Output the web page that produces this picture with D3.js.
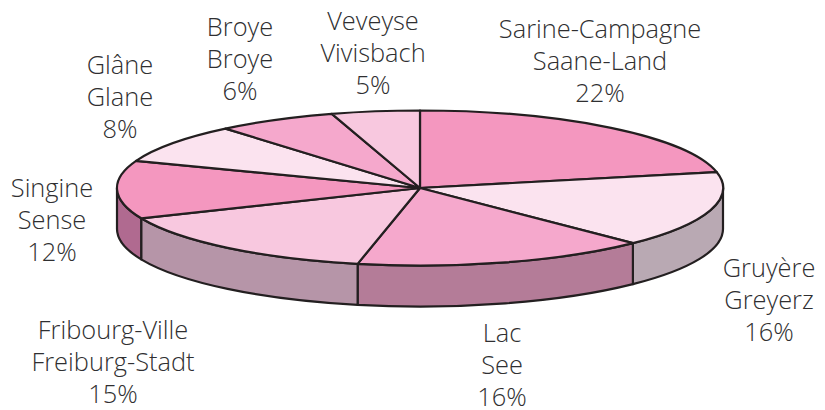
<!DOCTYPE html>
<html>
<head>
<meta charset="utf-8">
<script src="https://cdn.jsdelivr.net/npm/d3@7"></script>
<style>
  html, body { margin: 0; background: #fff; }
  text { font-family: "Open Sans", "Noto Sans", sans-serif; font-size: 25.4px; font-weight: 300; fill: #2f2f31; }
</style>
</head>
<body>
<div id="chart"></div>
<script>
const regions = ['Sarine-Campagne', 'Gruyère', 'Lac', 'Fribourg-Ville', 'Singine', 'Glâne', 'Broye', 'Veveyse']
const regionsDe = ['Saane-Land', 'Greyerz', 'See', 'Freiburg-Stadt', 'Sense', 'Glane', 'Broye', 'Vivisbach']
// printed percentages
const shareLabels = [22, 16, 16, 15, 12, 8, 6, 5]
// slice sizes, a bit finer than the printed figures
const shares = [21.7, 15.9, 15.7, 15.3, 12.1, 8.2, 6.4, 4.7]

const topColors = ['#f497bf', '#fbe3ef', '#f5a8cc', '#f8c8df', '#f497bf', '#fbe3ef', '#f5a8cc', '#f8c8df']
const sideColors = ['#b9a9b3', '#b9a9b3', '#b47c98', '#b695a8', '#b06a90', '#b695a8', '#b695a8', '#b695a8']

// centre of each label block, x and first baseline
const labelX = [600, 769, 502, 113, 52, 120, 240, 373]
const labelY = [38, 277, 342, 339, 197, 74, 36, 30]

const canvasWidth = 825
const canvasHeight = 410
const cx = 420
const cy = 188
const rx = 303
const ry = 77.5
const depth = 41
const lineStep = 32

const svg = d3
  .select('#chart')
  .append('svg')
  .attr('width', canvasWidth)
  .attr('height', canvasHeight)

const pie = d3.pie().sort(null)
const slices = pie(shares)

const px = a => cx + rx * Math.sin(a)
const py = a => cy - ry * Math.cos(a)

// wall below the rim, only the front half of the ellipse shows
const wallPath = d => {
  const a0 = Math.max(d.startAngle, Math.PI / 2)
  const a1 = Math.min(d.endAngle, Math.PI * 1.5)
  if (a1 <= a0) return null
  return `M${px(a0)},${py(a0)}A${rx},${ry} 0 0 1 ${px(a1)},${py(a1)}` +
    `L${px(a1)},${py(a1) + depth}A${rx},${ry} 0 0 0 ${px(a0)},${py(a0) + depth}Z`
}

svg
  .append('g')
  .selectAll('path')
  .data(slices.filter(wallPath))
  .enter()
  .append('path')
  .attr('d', wallPath)
  .attr('fill', d => sideColors[d.index])
  .attr('stroke', '#231f20')
  .attr('stroke-width', 2.2)
  .attr('stroke-linejoin', 'round')

const arc = d3.arc().innerRadius(0).outerRadius(1)

svg
  .append('g')
  .attr('transform', `translate(${cx}, ${cy}) scale(${rx}, ${ry})`)
  .selectAll('path')
  .data(slices)
  .enter()
  .append('path')
  .attr('d', arc)
  .attr('fill', d => topColors[d.index])
  .attr('stroke', '#231f20')
  .attr('stroke-width', 2.2)
  .attr('stroke-linejoin', 'round')
  .attr('vector-effect', 'non-scaling-stroke')

const labels = svg
  .append('g')
  .selectAll('text')
  .data(regions)
  .enter()
  .append('text')
  .attr('text-anchor', 'middle')
  .attr('transform', (d, i) => `translate(${labelX[i]}, ${labelY[i]})`)

labels.append('tspan').attr('x', 0).attr('y', 0).text(d => d)
labels.append('tspan').attr('x', 0).attr('y', lineStep).text((d, i) => regionsDe[i])
labels.append('tspan').attr('x', 0).attr('y', lineStep * 2).text((d, i) => `${shareLabels[i]}%`)
</script>
</body>
</html>
